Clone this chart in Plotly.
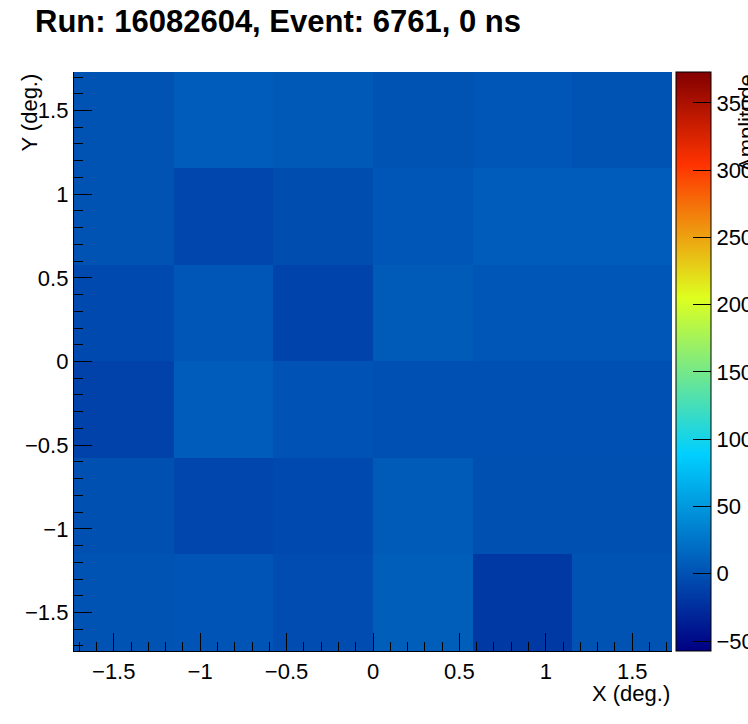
import plotly.graph_objects as go

# Bin centers (deg.)
x_centers = [-1.4417, -0.865, -0.2883, 0.2883, 0.865, 1.4417]
y_centers = [-1.4417, -0.865, -0.2883, 0.2883, 0.865, 1.4417]

# Amplitude rows, bottom (y=-1.44) to top (y=+1.44)
row_1 = [0.5, 1.9, -3.7, 9.0, -17.8, 0.5]
row_2 = [-0.9, -8.0, -5.8, 6.2, -0.9, -0.9]
row_3 = [-10.8, 7.6, 1.2, -1.6, -1.6, -1.6]
row_4 = [-5.1, 3.3, -9.4, 6.2, 3.3, 3.3]
row_5 = [0.5, -8.0, -3.0, 3.3, 7.6, 7.6]
row_6 = [0.5, 7.6, 4.8, 0.5, 3.3, 0.5]
z_rows = [row_1, row_2, row_3, row_4, row_5, row_6]

z_min, z_max = -57.4, 373.0
cbar_ticks = [-50, 0, 50, 100, 150, 200, 250, 300, 350]

title_text = "Run: 16082604, Event: 6761, 0 ns"

colorscale = [
    [0.00, "rgb(0,0,130)"],
    [0.34, "rgb(0,207,255)"],
    [0.61, "rgb(222,255,31)"],
    [0.84, "rgb(255,51,0)"],
    [1.00, "rgb(130,0,0)"],
]

FONT = "Liberation Sans, Arial, Helvetica, sans-serif"
LBL = 22

fig = go.Figure(
    go.Heatmap(
        x=x_centers,
        y=y_centers,
        z=z_rows,
        zmin=z_min,
        zmax=z_max,
        colorscale=colorscale,
        showscale=True,
        colorbar=dict(
            x=1.0067,
            xanchor="left",
            xpad=0,
            y=0.5,
            yanchor="middle",
            len=1,
            lenmode="fraction",
            ypad=0,
            thickness=35,
            thicknessmode="pixels",
            outlinewidth=1,
            outlinecolor="black",
            tickmode="array",
            tickvals=cbar_ticks,
            ticks="inside",
            ticklen=18,
            tickwidth=1.3,
            tickcolor="black",
            tickfont=dict(family=FONT, size=LBL, color="black"),
        ),
    )
)

axis_common = dict(
    range=[-1.73, 1.73],
    dtick=0.5,
    tick0=0,
    ticks="inside",
    ticklen=18,
    tickwidth=1.3,
    tickcolor="black",
    showline=True,
    linecolor="black",
    linewidth=1.3,
    showgrid=False,
    zeroline=False,
    tickfont=dict(family=FONT, size=LBL, color="black"),
    minor=dict(ticks="inside", ticklen=9, dtick=0.1, tick0=0, tickcolor="black", tickwidth=1.3, showgrid=False),
)

fig.update_layout(
    width=748,
    height=724,
    margin=dict(l=74, r=76, t=72, b=73, autoexpand=False),
    paper_bgcolor="white",
    plot_bgcolor="white",
    font=dict(family=FONT, color="black"),
    xaxis=dict(**axis_common),
    yaxis=dict(**axis_common),
    title=dict(
        text="<b>" + title_text + "</b>",
        x=35 / 748,
        xanchor="left",
        y=1 - 21 / 724,
        yanchor="middle",
        font=dict(family=FONT, size=31, color="black"),
    ),
    annotations=[
        dict(
            text="X (deg.)",
            xref="paper", yref="paper",
            x=1.0, y=-0.074,
            xanchor="right", yanchor="middle",
            showarrow=False,
            font=dict(family=FONT, size=LBL, color="black"),
        ),
        dict(
            text="Y (deg.)",
            xref="paper", yref="paper",
            x=-0.076, y=1.0,
            xanchor="center", yanchor="top",
            textangle=-90,
            showarrow=False,
            font=dict(family=FONT, size=LBL, color="black"),
        ),
        dict(
            text="Amplitude",
            xref="paper", yref="paper",
            x=(746 - 74) / 598, y=1.0,
            xanchor="center", yanchor="top",
            textangle=-90,
            showarrow=False,
            font=dict(family=FONT, size=LBL, color="black"),
        ),
    ],
)

fig.write_html(
    "out.html",
    config={"displayModeBar": False},
    post_script="document.body.style.margin='0';",
)
